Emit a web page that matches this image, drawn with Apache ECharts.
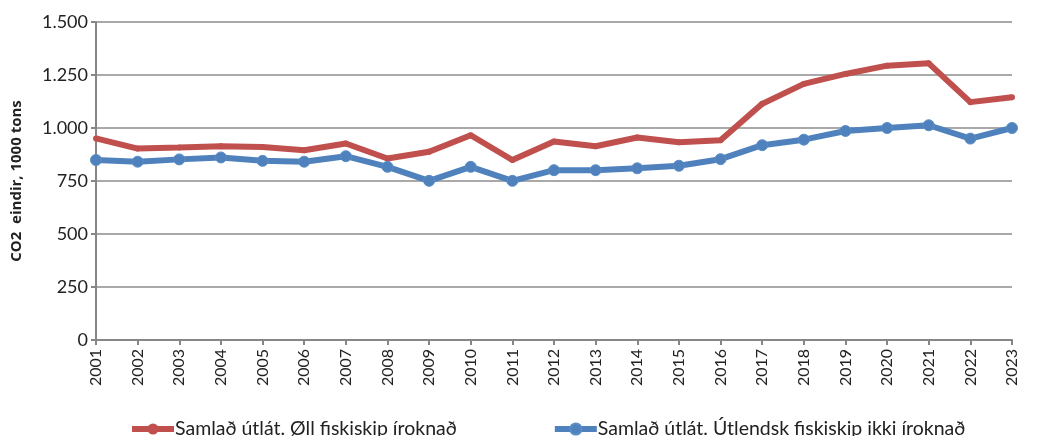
<!DOCTYPE html>
<html>
<head>
<meta charset="utf-8">
<script src="https://cdn.jsdelivr.net/npm/echarts@6/dist/echarts.min.js"></script>
<style>html,body{margin:0;padding:0;background:#fff}#chart{width:1040px;height:436px}</style>
</head>
<body>
<div id="chart"></div>
<script>
const years = ['2001','2002','2003','2004','2005','2006','2007','2008','2009','2010','2011','2012','2013','2014','2015','2016','2017','2018','2019','2020','2021','2022','2023']
const allShips = [951, 903, 908, 914, 910, 895, 927, 856, 888, 966, 849, 936, 914, 955, 933, 942, 1114, 1208, 1255, 1294, 1305, 1122, 1145]
const foreignExcl = [849, 841, 852, 861, 845, 841, 867, 817, 751, 817, 751, 801, 801, 810, 822, 853, 919, 945, 986, 1000, 1013, 950, 1000]
const yTicks = [0, 250, 500, 750, 1000, 1250, 1500]

const font = 'Lato, "Open Sans", sans-serif'
const chart = echarts.init(document.getElementById('chart'), null, { renderer: 'canvas' })

chart.setOption({
  animation: false,
  textStyle: { fontFamily: font },
  grid: { left: 96, right: 28, top: 22, bottom: 96, containLabel: false },
  legend: {
    left: 129, top: 419, padding: 0, itemGap: 95, itemWidth: 42, itemHeight: 14,
    lineStyle: { width: 6 },
    textStyle: { fontSize: 19.5, color: '#222', fontFamily: font, padding: [0, 0, 0, -4] },
    data: ['Samlað útlát. Øll fiskiskip íroknað', 'Samlað útlát. Útlendsk fiskiskip ikki íroknað']
  },
  xAxis: {
    type: 'category', data: years, boundaryGap: false,
    axisLine: { lineStyle: { color: '#868686', width: 2 } },
    axisTick: { show: true, length: 5, lineStyle: { color: '#868686', width: 2 } },
    axisLabel: { rotate: 90, fontSize: 16, color: '#222', margin: 9, interval: 0 }
  },
  yAxis: {
    type: 'value', min: yTicks[0], max: yTicks[yTicks.length - 1], interval: 250,
    name: 'CO2  eindir, 1000 tons', nameLocation: 'middle', nameGap: 72,
    nameTextStyle: { fontSize: 15, fontWeight: 'bold', color: '#222', fontFamily: '"Open Sans", sans-serif' },
    axisLine: { show: true, lineStyle: { color: '#868686', width: 2 } },
    axisTick: { show: true, length: 5, lineStyle: { color: '#868686', width: 2 } },
    axisLabel: { fontSize: 18, color: '#222', margin: 8,
      formatter: v => String(v).replace(/\B(?=(\d{3})+(?!\d))/g, '.') },
    splitLine: { lineStyle: { color: '#8c8c8c', width: 1.5 } }
  },
  series: [
    {
      name: 'Samlað útlát. Øll fiskiskip íroknað', type: 'line', data: allShips,
      symbol: 'circle', symbolSize: 6,
      lineStyle: { color: '#C0504D', width: 6 },
      itemStyle: { color: '#C0504D' }
    },
    {
      name: 'Samlað útlát. Útlendsk fiskiskip ikki íroknað', type: 'line', data: foreignExcl,
      symbol: 'circle', symbolSize: 11,
      lineStyle: { color: '#4F81BD', width: 6 },
      itemStyle: { color: '#4F81BD', borderColor: '#5a8cc6', borderWidth: 1 }
    }
  ]
})
</script>
</body>
</html>
